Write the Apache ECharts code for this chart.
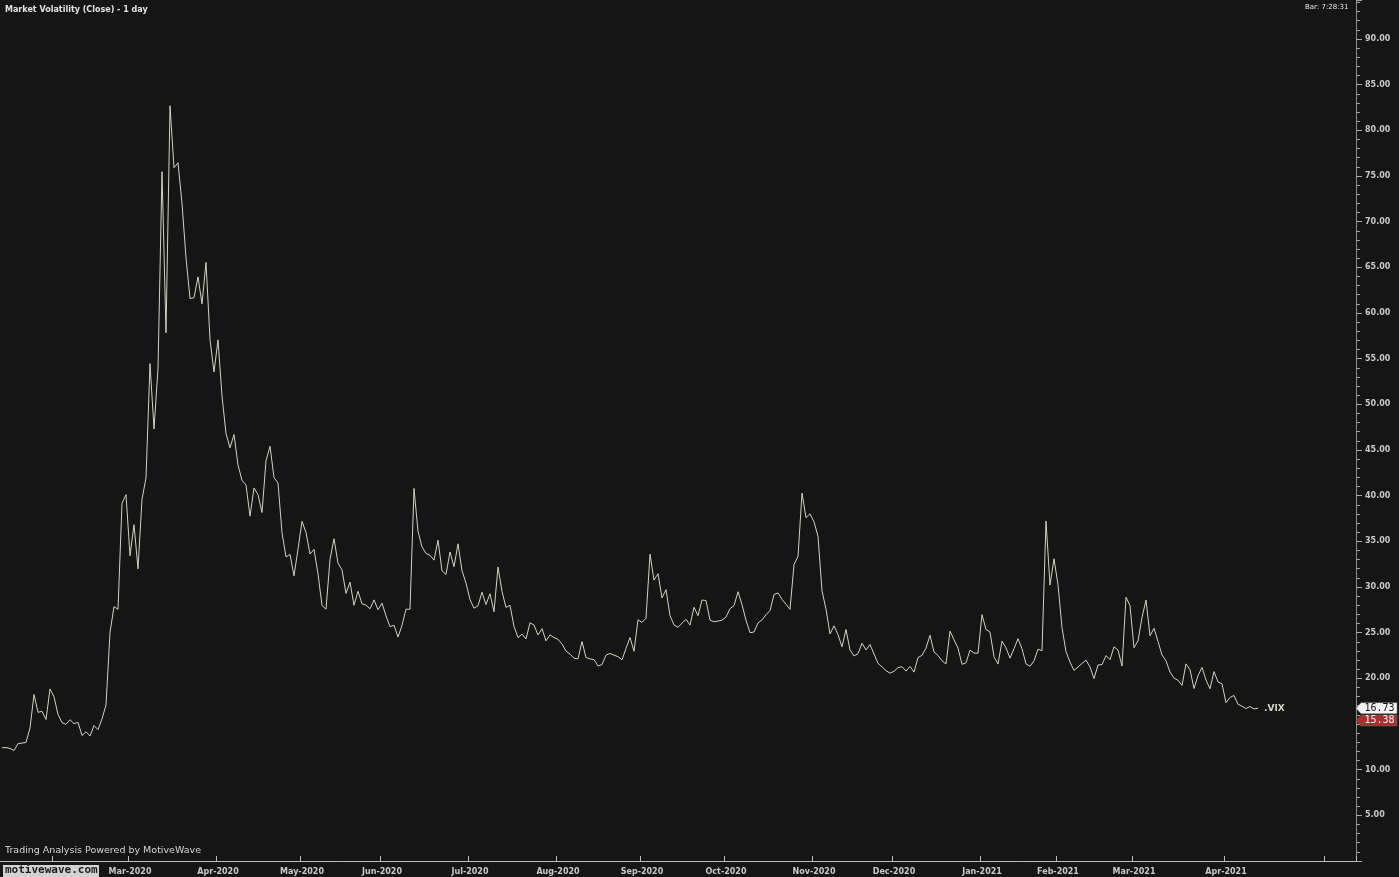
<!DOCTYPE html>
<html>
<head>
<meta charset="utf-8">
<script src="https://cdn.jsdelivr.net/npm/echarts@6/dist/echarts.min.js"></script>
<style>
  html, body { margin: 0; padding: 0; background: #151515; }
  #chart { width: 1399px; height: 877px; }
</style>
</head>
<body>
<div id="chart"></div>
<script>
// ---- DATA ----
const monthKeys = ['2020-01','2020-02','2020-03','2020-04','2020-05','2020-06','2020-07','2020-08',
  '2020-09','2020-10','2020-11','2020-12','2021-01','2021-02','2021-03','2021-04'];
const tradingDays = [
  [14,15,16,17,21,22,23,24,27,28,29,30,31],
  [3,4,5,6,7,10,11,12,13,14,18,19,20,21,24,25,26,27,28],
  [2,3,4,5,6,9,10,11,12,13,16,17,18,19,20,23,24,25,26,27,30,31],
  [1,2,3,6,7,8,9,13,14,15,16,17,20,21,22,23,24,27,28,29,30],
  [1,4,5,6,7,8,11,12,13,14,15,18,19,20,21,22,26,27,28,29],
  [1,2,3,4,5,8,9,10,11,12,15,16,17,18,19,22,23,24,25,26,29,30],
  [1,2,6,7,8,9,10,13,14,15,16,17,20,21,22,23,24,27,28,29,30,31],
  [3,4,5,6,7,10,11,12,13,14,17,18,19,20,21,24,25,26,27,28,31],
  [1,2,3,4,8,9,10,11,14,15,16,17,18,21,22,23,24,25,28,29,30],
  [1,2,5,6,7,8,9,12,13,14,15,16,19,20,21,22,23,26,27,28,29,30],
  [2,3,4,5,6,9,10,11,12,13,16,17,18,19,20,23,24,25,27,30],
  [1,2,3,4,7,8,9,10,11,14,15,16,17,18,21,22,23,24,28,29,30,31],
  [4,5,6,7,8,11,12,13,14,15,19,20,21,22,25,26,27,28,29],
  [1,2,3,4,5,8,9,10,11,12,16,17,18,19,22,23,24,25,26],
  [1,2,3,4,5,8,9,10,11,12,15,16,17,18,19,22,23,24,25,26,29,30,31],
  [1,5,6,7,8,9,12,13,14]
];
const vixClose = [
  // 2020-01
  12.39,12.42,12.32,12.10,12.85,12.91,12.98,14.56,18.23,16.28,16.39,15.49,18.84,
  // 2020-02
  17.97,16.05,15.15,14.96,15.47,15.04,15.18,13.74,14.15,13.68,14.83,14.38,15.56,17.08,25.03,27.85,27.56,39.16,40.11,
  // 2020-03
  33.42,36.82,31.99,39.62,41.94,54.46,47.30,53.90,75.47,57.83,82.69,75.91,76.45,72.00,66.04,61.59,61.67,63.95,61.00,65.54,57.08,53.54,
  // 2020-04
  57.06,50.91,46.80,45.24,46.70,43.35,41.67,41.17,37.76,40.84,40.11,38.15,43.83,45.41,41.98,41.38,35.93,33.29,33.57,31.23,34.15,
  // 2020-05
  37.19,35.97,33.61,34.12,31.44,27.98,27.57,33.04,35.28,32.61,31.89,29.30,30.53,27.99,29.53,28.16,28.01,27.62,28.59,27.51,
  // 2020-06
  28.23,26.84,25.66,25.81,24.52,25.81,27.57,27.57,40.79,36.09,34.40,33.67,33.47,32.94,35.12,31.77,31.37,33.84,32.22,34.73,31.78,30.43,
  // 2020-07
  28.62,27.68,27.94,29.43,28.08,29.26,27.29,32.19,29.52,27.76,28.00,25.68,24.46,24.84,24.32,26.08,25.84,24.74,25.44,24.10,24.76,24.46,
  // 2020-08
  24.28,23.76,22.99,22.65,22.21,22.13,24.03,22.28,22.13,22.05,21.35,21.51,22.54,22.72,22.54,22.37,22.03,23.27,24.47,22.96,26.41,
  // 2020-09
  26.12,26.57,33.60,30.75,31.46,28.81,29.71,26.87,25.85,25.59,26.04,26.46,25.83,27.78,26.86,28.58,28.51,26.38,26.19,26.27,26.37,
  // 2020-10
  26.70,27.63,27.96,29.48,28.06,26.36,25.00,25.07,26.07,26.40,26.97,27.41,29.18,29.35,28.65,28.11,27.55,32.46,33.35,40.28,37.59,38.02,
  // 2020-11
  37.13,35.55,29.57,27.58,24.86,25.75,24.80,23.45,25.35,23.10,22.45,22.71,23.84,23.11,23.70,22.66,21.64,21.25,20.84,20.57,
  // 2020-12
  20.77,21.17,21.28,20.79,21.30,20.68,22.27,22.52,23.31,24.72,22.89,22.50,21.93,21.57,25.16,24.23,23.31,21.53,21.70,23.08,22.77,22.75,
  // 2021-01
  26.97,25.34,25.07,22.37,21.56,24.08,23.33,22.21,23.25,24.34,23.24,21.58,21.32,21.91,23.19,23.02,37.21,30.21,33.09,
  // 2021-02
  30.24,25.56,22.91,21.77,20.87,21.24,21.63,21.99,21.25,19.97,21.46,21.50,22.49,22.05,23.45,23.11,21.34,28.89,27.95,
  // 2021-03
  23.35,24.10,26.67,28.57,24.66,25.47,24.03,22.56,21.91,20.69,20.03,19.79,19.23,21.58,20.95,18.88,20.30,21.20,19.81,18.86,20.74,19.61,19.40,
  // 2021-04
  17.33,17.91,18.12,17.16,16.95,16.69,16.91,16.65,16.73
];
const markerPrice = 15.38;           // red price marker on the right axis
const yTickValues = [5,10,15,20,25,30,35,40,45,50,55,60,65,70,75,80,85,90];
const monthNames = ['Jan','Feb','Mar','Apr','May','Jun','Jul','Aug','Sep','Oct','Nov','Dec'];
const totalSlots = 339;              // trading slots + empty future slots on the time axis

// ---- build categories ----
const pad = n => (n < 10 ? '0' : '') + n;
const dates = [];
monthKeys.forEach((mk, i) => tradingDays[i].forEach(d => dates.push(mk + '-' + pad(d))));
const nData = dates.length;
(function addFuture() {
  const last = dates[dates.length - 1];
  let dt = new Date(Date.UTC(+last.slice(0,4), +last.slice(5,7) - 1, +last.slice(8,10)));
  while (dates.length < totalSlots) {
    dt = new Date(dt.getTime() + 86400000);
    dates.push(dt.getUTCFullYear() + '-' + pad(dt.getUTCMonth() + 1) + '-' + pad(dt.getUTCDate()));
  }
})();
const isMonthStart = idx => idx > 0 && dates[idx].slice(0,7) !== dates[idx - 1].slice(0,7);

const labelColor = '#c9c9c9';
const lineColor = '#d3d3bd';
const chart = echarts.init(document.getElementById('chart'), null, { renderer: 'canvas' });

const option = {
  backgroundColor: '#151515',
  animation: false,
  grid: { left: 0, right: 43, top: 0, bottom: 16, containLabel: false },
  xAxis: {
    type: 'category',
    data: dates,
    boundaryGap: true,
    offset: 3,
    axisLine: { show: true, lineStyle: { color: '#bdbdbd', width: 1 } },
    axisTick: { show: true, inside: true, length: 5, alignWithLabel: false,
      interval: (idx) => isMonthStart(idx), lineStyle: { color: '#bdbdbd' } },
    axisLabel: {
      interval: (idx) => isMonthStart(idx) && idx < nData,
      formatter: v => monthNames[+v.slice(5,7) - 1] + '-' + v.slice(0,4),
      color: labelColor, fontFamily: 'DejaVu Sans', fontWeight: 'bold', fontSize: 8, margin: 4
    },
    splitLine: { show: false }
  },
  yAxis: {
    type: 'value',
    position: 'right',
    min: 0,
    max: 94.27,
    interval: 5,
    axisLine: { show: true, lineStyle: { color: '#8c8c8c', width: 1 } },
    axisTick: { show: true, length: 6, lineStyle: { color: '#a8a8a8' } },
    minorTick: { show: true, splitNumber: 5, length: 4, lineStyle: { color: '#a0a0a0' } },
    splitLine: { show: false },
    axisLabel: {
      showMinLabel: false, showMaxLabel: false,
      formatter: v => (yTickValues.indexOf(v) >= 0 ? v.toFixed(2) : ''),
      color: labelColor, fontFamily: 'DejaVu Sans', fontWeight: 'bold', fontSize: 8, margin: 9
    }
  },
  series: [{
    type: 'line',
    data: vixClose,
    showSymbol: false,
    symbol: 'none',
    lineStyle: { color: lineColor, width: 1 },
    endLabel: { show: true, formatter: '.VIX', color: '#d6d6c4', fontFamily: 'DejaVu Sans',
      fontWeight: 'bold', fontSize: 9, distance: 6 },
    z: 3
  }],
  graphic: [
    { type: 'text', left: 5, top: 6, style: { text: 'Market Volatility (Close) - 1 day', fill: '#e2e2e2',
      font: 'bold 8px "DejaVu Sans"' } },
    { type: 'text', left: 1305, top: 4, style: { text: 'Bar: 7:28:31', fill: '#e6e6e6',
      font: '7px "DejaVu Sans"' } },
    { type: 'text', left: 5, top: 846, style: { text: 'Trading Analysis Powered by MotiveWave', fill: '#d6d6d6',
      font: '9.5px "DejaVu Sans"' } },
    { type: 'rect', shape: { x: 3, y: 865, width: 96, height: 12 }, style: { fill: '#d2d2d2' }, z: 50 },
    { type: 'text', left: 5, top: 865, z: 51, style: { text: 'motivewave.com', fill: '#1c1c1c',
      font: 'bold 11px "DejaVu Sans Mono"' } }
  ]
};
chart.setOption(option);

// price tags on the right axis, placed through the y scale
const lastVal = vixClose[vixClose.length - 1];
function tag(value, fill, textFill) {
  const y = chart.convertToPixel({ yAxisIndex: 0 }, value);
  const x0 = 1356, x1 = 1361, x2 = 1397, h = 5.5;
  return [
    { type: 'polygon', z: 60, shape: { points: [[x0, y], [x1, y - h], [x2, y - h], [x2, y + h], [x1, y + h]] },
      style: { fill: fill, stroke: '#6a6a6a', lineWidth: 0.5 } },
    { type: 'text', z: 61, x: 1379.5, y: y, style: { text: value.toFixed(2), fill: textFill,
      font: '10px "DejaVu Sans Mono"', align: 'center', verticalAlign: 'middle' } }
  ];
}
const base = option.graphic.slice();
chart.setOption({ graphic: base.concat(tag(lastVal, '#f2f2f2', '#111111'), tag(markerPrice, '#a63030', '#f4f4f4')) });
</script>
</body>
</html>
